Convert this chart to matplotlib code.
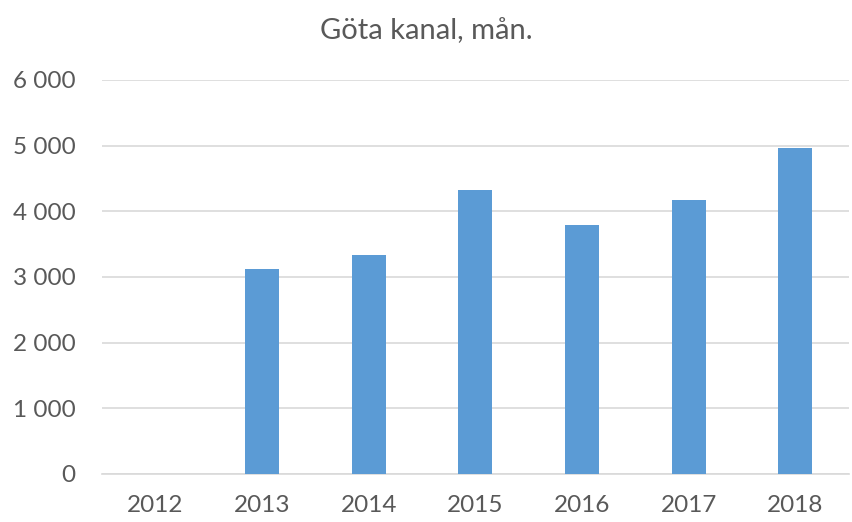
import matplotlib
matplotlib.use("Agg")
import matplotlib.pyplot as plt
from matplotlib.ticker import FuncFormatter

years = ["2012", "2013", "2014", "2015", "2016", "2017", "2018"]
values = [0, 3116, 3334, 4323, 3796, 4172, 4970]
title = "Göta kanal, mån."

plt.rcParams['font.family'] = ['Lato', 'DejaVu Sans']

fig = plt.figure(figsize=(8.52, 5.22), dpi=100)
ax = fig.add_axes([0.12, 0.092, 0.876, 0.755])
x = list(range(len(years)))
ax.bar(x, values, width=0.32, color="#5B9BD5", zorder=3)
ax.set_xlim(-0.5, len(years) - 0.5)
ax.set_ylim(0, 6000)
ax.set_yticks(range(0, 6001, 1000))
ax.yaxis.set_major_formatter(FuncFormatter(lambda v, p: f"{int(v):,}".replace(",", " ")))
ax.set_xticks(x)
ax.set_xticklabels(years)
ax.grid(axis="y", color="#D9D9D9", linewidth=1.2, zorder=0)
for s in ["top", "right", "left"]:
    ax.spines[s].set_visible(False)
ax.spines["bottom"].set_color("#D9D9D9")
ax.spines["bottom"].set_linewidth(1.2)
ax.tick_params(axis="both", length=0, labelsize=17.5, labelcolor="#595959")
ax.tick_params(axis="x", pad=15)
ax.tick_params(axis="y", pad=19)
fig.text(0.5, 0.94, title, ha="center", va="center", fontsize=21, color="#595959")
fig.savefig("out.png", dpi=100)
